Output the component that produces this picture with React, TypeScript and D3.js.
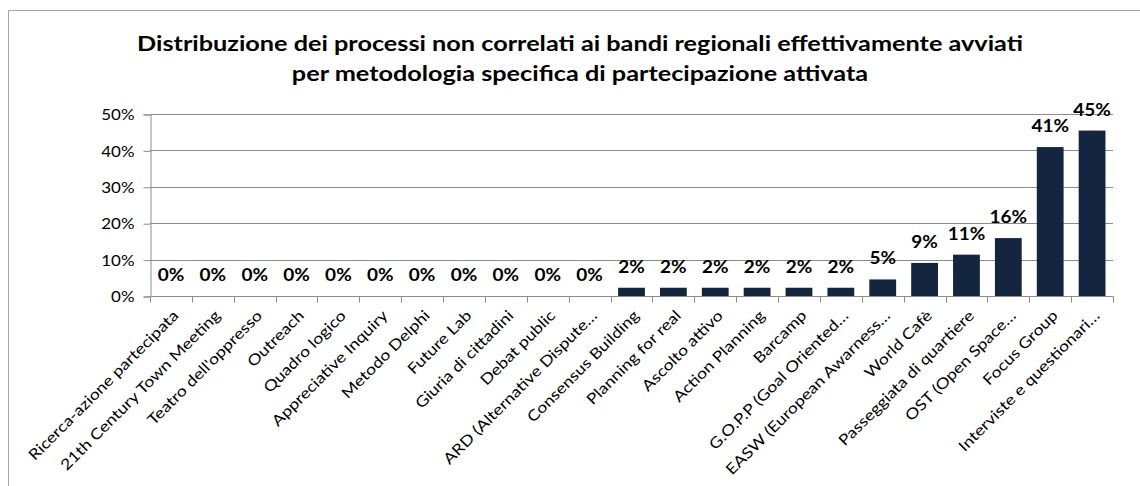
import React, { useRef, useEffect } from "react";
import * as d3 from "d3";

const categories = [
  "Ricerca-azione partecipata",
  "21th Century Town Meeting",
  "Teatro dell'oppresso",
  "Outreach",
  "Quadro logico",
  "Appreciative Inquiry",
  "Metodo Delphi",
  "Future Lab",
  "Giuria di cittadini",
  "Debat public",
  "ARD (Alternative Dispute…",
  "Consensus Building",
  "Planning for real",
  "Ascolto attivo",
  "Action Planning",
  "Barcamp",
  "G.O.P.P (Goal Oriented…",
  "EASW (European Awarness…",
  "World Cafè",
  "Passeggiata di quartiere",
  "OST (Open Space…",
  "Focus Group",
  "Interviste e questionari…",
];

const values = [
  0, 0, 0, 0, 0, 0, 0, 0, 0, 0, 0, 0.0227, 0.0227, 0.0227, 0.0227, 0.0227,
  0.0227, 0.0455, 0.0909, 0.1136, 0.1591, 0.4091, 0.4545,
];

const yTicks = [0, 0.1, 0.2, 0.3, 0.4, 0.5];

const titleLines = [
  "Distribuzione dei processi non correlati ai bandi regionali effettivamente avviati",
  "per metodologia specifica di partecipazione attivata",
];

const width = 1140;
const height = 486;
const left = 150;
const right = 1113;
const top = 114;
const bottom = 296;
const font = "Lato, 'Open Sans', sans-serif";
const barColor = "#14253f";
const lineColor = "#8c8c8c";

// widen Lato to the proportions of the original Calibri text
const stretch = (sel: any, factor: number) => {
  sel.each(function (this: SVGTextElement) {
    const w = this.getComputedTextLength();
    d3.select(this)
      .attr("textLength", w * factor)
      .attr("lengthAdjust", "spacingAndGlyphs");
  });
};

const App = () => {
  const wrapper = useRef<SVGSVGElement>(null);

  useEffect(() => {
    const svg = d3.select(wrapper.current);
    svg.selectAll("*").remove();

    const x = d3
      .scaleBand()
      .domain(categories)
      .range([left, right])
      .paddingInner(0.36)
      .paddingOuter(0.18);
    const y = d3.scaleLinear().domain([0, 0.5]).range([bottom, top]);
    const fmt = d3.format(".0%");

    // chart area border (only top and left are inside the picture)
    svg
      .append("path")
      .attr("d", `M8.5,${height} V10.5 H${width}`)
      .attr("fill", "none")
      .attr("stroke", "#a6a6a6");

    // title
    const title = svg
      .append("g")
      .selectAll("text")
      .data(titleLines)
      .enter()
      .append("text")
      .attr("x", 580)
      .attr("y", (d, i) => 51 + i * 30)
      .attr("text-anchor", "middle")
      .style("font-family", font)
      .style("font-weight", "bold")
      .style("font-size", "20.5px")
      .attr("fill", "#000")
      .text((d) => d);
    const firstW = (title.node() as SVGTextElement).getComputedTextLength();
    stretch(title, 886 / firstW);

    // gridlines
    svg
      .append("g")
      .selectAll("line")
      .data(yTicks.slice(1))
      .enter()
      .append("line")
      .attr("x1", left)
      .attr("x2", right)
      .attr("y1", (d) => Math.round(y(d)) + 0.5)
      .attr("y2", (d) => Math.round(y(d)) + 0.5)
      .attr("stroke", lineColor);

    // y axis
    const yAxis = svg
      .append("g")
      .attr("transform", `translate(${left + 0.5},0.5)`)
      .call(
        d3
          .axisLeft(y)
          .tickValues(yTicks)
          .tickFormat((d) => fmt(d as number))
          .tickSize(7)
          .tickPadding(9)
      );
    yAxis.select(".domain").attr("stroke", lineColor);
    yAxis.selectAll(".tick line").attr("stroke", lineColor);
    const yLabels = yAxis
      .selectAll(".tick text")
      .style("font-family", font)
      .style("font-size", "16px")
      .attr("fill", "#000");
    stretch(yLabels, 1.06);

    // bars
    svg
      .append("g")
      .selectAll("rect")
      .data(values)
      .enter()
      .append("rect")
      .attr("x", (d, i) => x(categories[i]) as number)
      .attr("width", x.bandwidth())
      .attr("y", (d) => y(d))
      .attr("height", (d) => bottom - y(d))
      .attr("fill", barColor);

    // x axis
    const xAxis = svg
      .append("g")
      .attr("transform", `translate(0.5,${bottom + 0.5})`);
    xAxis
      .append("line")
      .attr("x1", left)
      .attr("x2", right)
      .attr("stroke", lineColor);
    const step = x.step();
    xAxis
      .selectAll(".tk")
      .data(d3.range(categories.length + 1))
      .enter()
      .append("line")
      .attr("class", "tk")
      .attr("x1", (i) => Math.round(left + i * step))
      .attr("x2", (i) => Math.round(left + i * step))
      .attr("y1", 0)
      .attr("y2", 6)
      .attr("stroke", lineColor);

    // x labels
    const xLabels = svg
      .append("g")
      .selectAll("text")
      .data(categories)
      .enter()
      .append("text")
      .attr("transform", (d) => {
        const cx = (x(d) as number) + x.bandwidth() / 2;
        return `translate(${cx + 1},${bottom + 13}) rotate(-45)`;
      })
      .attr("dy", "0.71em")
      .attr("text-anchor", "end")
      .style("font-family", font)
      .style("font-size", "15px")
      .attr("fill", "#000")
      .text((d) => d);
    stretch(xLabels, 1.18);

    // data labels
    const dataLabels = svg
      .append("g")
      .selectAll("text")
      .data(values)
      .enter()
      .append("text")
      .attr("x", (d, i) => (x(categories[i]) as number) + x.bandwidth() / 2)
      .attr("y", (d) => y(d) - 15)
      .attr("text-anchor", "middle")
      .style("font-family", font)
      .style("font-weight", "bold")
      .style("font-size", "16.5px")
      .attr("fill", "#000")
      .text((d) => fmt(d));
    stretch(dataLabels, 1.15);
  }, [wrapper]);

  return (
    <svg
      ref={wrapper}
      width={width}
      height={height}
      style={{ position: "absolute", left: 0, top: 0, background: "white" }}
    />
  );
};

export default App;
